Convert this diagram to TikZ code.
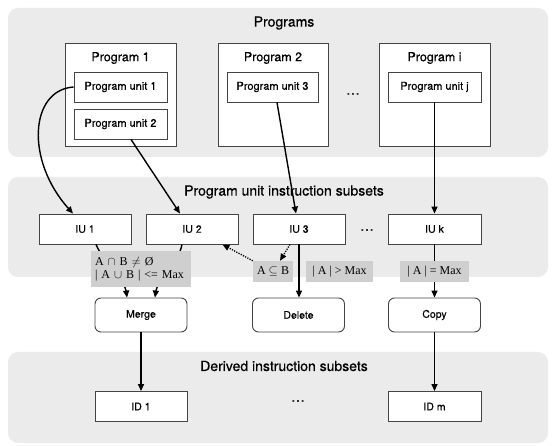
\documentclass[tikz,border=0pt]{standalone}
\usepackage{fontspec}
\setmainfont{TeX Gyre Heros}[FakeBold=0.35]
\newfontfamily\serifcond{Liberation Serif}
\usetikzlibrary{arrows.meta}
\definecolor{panelgray}{HTML}{EBEBEB}
\definecolor{condgray}{HTML}{CFCFCF}
\definecolor{edgegray}{HTML}{444444}
\begin{document}
\begin{tikzpicture}[x=1pt,y=-1pt,
  panel/.style={fill=panelgray, rounded corners=10pt},
  paneltitle/.style={font=\fontsize{14}{16}\selectfont},
  progbox/.style={draw=edgegray, line width=0.9pt, fill=white, minimum width=111pt, minimum height=103pt, inner sep=0pt},
  progtitle/.style={font=\fontsize{12.5}{14}\selectfont},
  unitbox/.style={draw=edgegray, line width=0.9pt, fill=white, minimum width=93pt, minimum height=30pt, inner sep=0pt, font=\fontsize{11}{13}\selectfont},
  iubox/.style={draw=edgegray, line width=0.9pt, fill=white, minimum width=92pt, minimum height=30pt, inner sep=0pt, font=\fontsize{10.5}{12}\selectfont},
  opbox/.style={draw=edgegray, line width=0.9pt, fill=white, rounded corners=6pt, minimum width=92pt, minimum height=34pt, inner sep=0pt, font=\fontsize{10.5}{12}\selectfont},
  cond/.style={fill=condgray, inner sep=0pt, minimum height=21pt, font=\serifcond\fontsize{12}{14}\selectfont},
  dotsnode/.style={font=\fontsize{14}{16}\selectfont},
  arr/.style={line width=1.4pt, -{Triangle[length=7pt,width=6pt]}},
  dotarr/.style={line width=1.3pt, dash pattern=on 1.2pt off 1.3pt, -{Triangle[length=7pt,width=6pt]}}
]
\useasboundingbox (0,0) rectangle (555,446);
% panels
\fill[panel] (8,8) rectangle (548,157);
\fill[panel] (8,177) rectangle (548,277);
\fill[panel] (8,352) rectangle (548,443);
\node[paneltitle] (tprog) at (284,23) {Programs};
\node[paneltitle] (tiu) at (284,192) {Program unit instruction subsets};
\node[paneltitle] (tid) at (284,366) {Derived instruction subsets};
% programs
\node[progbox] (p1) at (120.5,94.5) {};
\node[progtitle] (p1t) at (120.5,58) {Program 1};
\node[unitbox] (pu1) at (120.5,87) {Program unit 1};
\node[unitbox] (pu2) at (120.5,124) {Program unit 2};
\node[progbox, minimum width=110pt] (p2) at (273,94.5) {};
\node[progtitle] (p2t) at (273,58) {Program 2};
\node[unitbox, minimum width=91pt] (pu3) at (272.5,87) {Program unit 3};
\node[dotsnode] (dots1) at (353,94) {\ldots};
\node[progbox] (pi) at (434.5,94.5) {};
\node[progtitle] (pit) at (434.5,58) {Program i};
\node[unitbox] (puj) at (434.5,87) {Program unit j};
% IU row
\node[iubox] (iu1) at (85,229) {IU 1};
\node[iubox] (iu2) at (192,229) {IU 2};
\node[iubox] (iu3) at (299,229) {IU 3};
\node[dotsnode] (dots2) at (367,230) {\ldots};
\node[iubox, minimum width=93pt] (iuk) at (434.5,229) {IU k};
% subset condition
\node[cond, minimum width=40pt] (subset) at (273,271.5) {A $\subseteq$ B};
\node[cond, minimum width=67pt] (gtmax) at (339.5,271.5) {| A | > Max};
% operations
\node[opbox] (merge) at (141,315) {Merge};
\node[opbox] (delete) at (298.5,315) {Delete};
\node[opbox] (copy) at (434.5,315) {Copy};
% derived
\node[iubox] (id1) at (141,406.5) {ID 1};
\node[dotsnode] (dots3) at (298,401) {\ldots};
\node[iubox, minimum width=93pt] (idm) at (434.5,406.5) {ID m};
% arrows
\draw[arr] (pu1.west) .. controls (30,90) and (25,160) .. ([xshift=-12pt]iu1.north);
\draw[arr] ([xshift=10.5pt]pu2.south) -- ([xshift=-12pt]iu2.north);
\draw[arr] ([xshift=4.5pt]pu3.south) -- ([xshift=-3pt]iu3.north);
\draw[arr] (puj.south) -- (iuk.north);
\draw[arr] ([xshift=11pt]iu1.south) .. controls (105,265) and (125,282) .. ([xshift=-14pt]merge.north);
\draw[arr] ([xshift=-10pt]iu2.south) .. controls (178,265) and (157,282) .. ([xshift=14pt]merge.north);
\draw[arr] (iu3.south) -- (iu3.south |- delete.north);
\draw[arr] (iuk.south) -- (copy.north);
\draw[arr] (merge.south) -- (id1.north);
\draw[arr] (copy.south) -- (idm.north);
\draw[dotarr] ([xshift=-9pt]iu3.south) -- ([xshift=7pt]subset.north);
\draw[dotarr] (subset.north west) -- ([xshift=-16pt]iu2.south east);
% conditions drawn over the lines
\node[cond, minimum width=100pt, minimum height=36pt, text width=92pt, inner xsep=4pt, align=left] (cond1) at (141,269)
  {A $\cap$ B $\neq$ Ø\\[-1pt]| A $\cup$ B | <= Max};
\node[cond, minimum width=69pt] (eqmax) at (434.5,271.5) {| A | = Max};
\end{tikzpicture}
\end{document}
